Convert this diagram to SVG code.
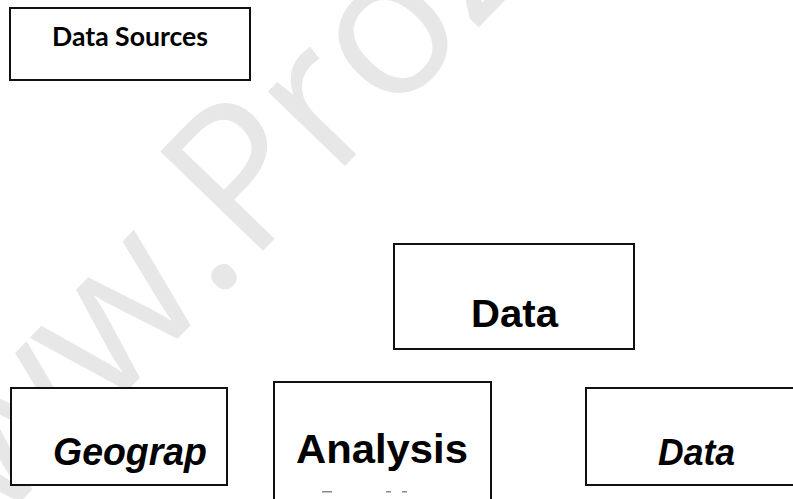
<svg xmlns="http://www.w3.org/2000/svg" width="793" height="499" viewBox="0 0 793 499">
  <style>
    .box { fill: #ffffff; stroke: #111111; stroke-width: 2; }
    .arial { font-family: "Liberation Sans", Arial, sans-serif; font-weight: bold; fill: #000000; }
    .ital { font-style: italic; }
    .cal { font-family: Lato, "Open Sans", "Liberation Sans", sans-serif; font-weight: bold; fill: #000000; }
    .wm { font-family: "Open Sans", "Noto Sans", sans-serif; font-size: 200px; fill: #e7e7e7; }
    .frag { fill: #8a8a8a; }
  </style>
  <rect x="0" y="0" width="793" height="499" fill="#ffffff"/>
  <g id="watermark">
    <text class="wm" transform="translate(-110,637) rotate(-46)">www.ProZ.com</text>
  </g>
  <g id="connectors"></g>
  <g id="node-data-sources">
    <rect class="box" x="10" y="8" width="240" height="72" stroke-width="2.5"/>
    <text class="cal" x="130" y="46" font-size="26" text-anchor="middle" textLength="156" lengthAdjust="spacingAndGlyphs">Data Sources</text>
  </g>
  <g id="node-data">
    <rect class="box" x="394" y="244" width="240" height="105"/>
    <text class="arial" x="514.5" y="327" font-size="39" text-anchor="middle" textLength="87" lengthAdjust="spacingAndGlyphs">Data</text>
  </g>
  <g id="node-geograp">
    <rect class="box" x="11" y="388" width="216" height="97"/>
    <text class="arial ital" x="130" y="465" font-size="38" text-anchor="middle" textLength="154" lengthAdjust="spacingAndGlyphs">Geograp</text>
  </g>
  <g id="node-analysis">
    <rect class="box" x="274" y="382" width="217" height="130"/>
    <text class="arial" x="382" y="463" font-size="41" text-anchor="middle" textLength="172" lengthAdjust="spacingAndGlyphs">Analysis</text>
    <rect class="frag" x="322" y="491" width="10" height="1.5"/>
    <rect class="frag" x="386" y="491" width="5" height="1.5"/>
    <rect class="frag" x="402" y="491" width="5" height="1.5"/>
  </g>
  <g id="node-data-italic">
    <rect class="box" x="586" y="388" width="220" height="97"/>
    <text class="arial ital" x="696.5" y="465" font-size="37" text-anchor="middle" textLength="77" lengthAdjust="spacingAndGlyphs">Data</text>
  </g>
</svg>
